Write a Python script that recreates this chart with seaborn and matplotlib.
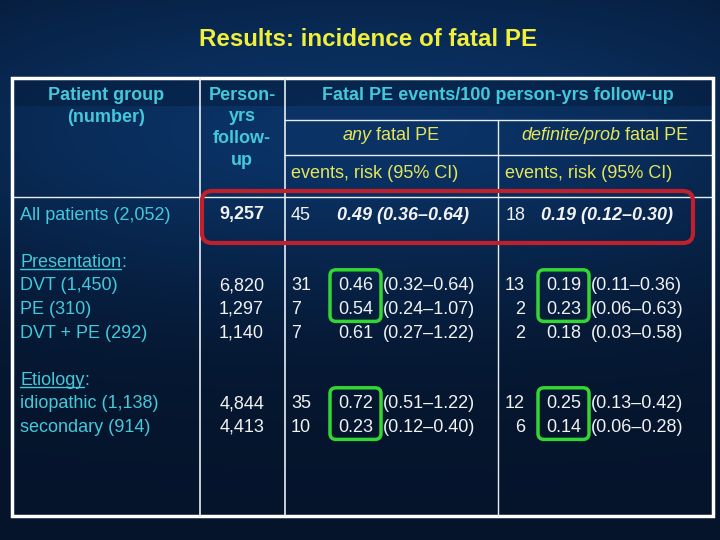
import numpy as np
import matplotlib.pyplot as plt
import seaborn as sns
from matplotlib.patches import FancyBboxPatch, Rectangle

sns.set_theme(style="white")
plt.rcParams["font.family"] = ["Liberation Sans", "DejaVu Sans"]

# Tablo verileri
title = "Results: incidence of fatal PE"
groups = ["All patients (2,052)", "DVT (1,450)", "PE (310)", "DVT + PE (292)",
          "idiopathic (1,138)", "secondary (914)"]
person_yrs = ["9,257", "6,820", "1,297", "1,140", "4,844", "4,413"]
any_events = [45, 31, 7, 7, 35, 10]
any_risk = [0.49, 0.46, 0.54, 0.61, 0.72, 0.23]
any_lo = [0.36, 0.32, 0.24, 0.27, 0.51, 0.12]
any_hi = [0.64, 0.64, 1.07, 1.22, 1.22, 0.40]
def_events = [18, 13, 2, 2, 12, 6]
def_risk = [0.19, 0.19, 0.23, 0.18, 0.25, 0.14]
def_lo = [0.12, 0.11, 0.06, 0.03, 0.13, 0.06]
def_hi = [0.30, 0.36, 0.63, 0.58, 0.42, 0.28]
row_line = [0, 3, 4, 5, 8, 9]
sections = ["Presentation", "Etiology"]
section_line = [2, 7]
highlight_groups = [[1, 2], [4, 5]]
head_group = ["Patient group", "(number)"]
head_pyrs = ["Person-", "yrs", "follow-", "up"]

CYAN = "#44c8dc"
YELLOW = "#e6e65a"
WHITE = "#f2f2f2"
RED = "#c0202c"
GREEN = "#33d633"

fig = plt.figure(figsize=(7.2, 5.4), dpi=100)
ax = fig.add_axes([0, 0, 1, 1])
ax.set_xlim(0, 720)
ax.set_ylim(540, 0)
ax.axis("off")

# Arka plan gradyanı
yy, xx = np.mgrid[0:540, 0:720]
v = np.exp(-((yy - 130) / 170.0) ** 2) * (1 - 0.35 * ((xx - 360) / 360.0) ** 2)
top = np.array([0.02, 0.08, 0.17])
mid = np.array([0.04, 0.20, 0.40])
img = top + v[..., None] * (mid - top)
ax.imshow(img, extent=(0, 720, 540, 0), zorder=0, aspect="auto")
ax.add_patch(Rectangle((12, 78), 701, 28, color="#041a38", alpha=0.45, lw=0, zorder=1))

fs = 13
CAP = 0.36 * fs * 100 / 72  # büyük harf yüksekliğinin yarısı (px)


def txt(x, y, s, color=WHITE, ha="left", size=fs, **kw):
    # y = satırın görsel ortası, taban çizgisine göre yerleştir
    return ax.text(x, y + 0.36 * size * 100 / 72, s, color=color, fontsize=size,
                   ha=ha, va="baseline", zorder=4, **kw)


txt(368, 37, title, color="#f0f03c", ha="center", size=17.4, fontweight="bold")

# Tablo çizgileri
lc = "#e8eef5"
ax.add_patch(Rectangle((12, 78), 701, 438, fill=False, ec="white", lw=2.5, zorder=3))
ax.plot([200, 200], [78, 516], color=lc, lw=1.2, zorder=3)
ax.plot([285, 285], [78, 516], color=lc, lw=1.2, zorder=3)
ax.plot([498, 498], [120, 516], color=lc, lw=1.0, zorder=3)
ax.plot([285, 713], [120, 120], color=lc, lw=1.0, zorder=3)
ax.plot([285, 713], [155, 155], color=lc, lw=1.0, zorder=3)
ax.plot([12, 713], [197, 197], color=lc, lw=1.0, zorder=3)

fig.canvas.draw()
renderer = fig.canvas.get_renderer()


def segments(x, y, parts, color):
    # parçaları yan yana yaz (italik + normal karışık), ortalı
    widths = []
    for s, style in parts:
        t = ax.text(0, 0, s, fontsize=fs, fontstyle=style)
        widths.append(t.get_window_extent(renderer).width)
        t.remove()
    x0 = x - sum(widths) / 2
    for (s, style), w in zip(parts, widths):
        txt(x0, y, s, color=color, fontstyle=style)
        x0 += w


# Başlıklar
for j, s in enumerate(head_group):
    txt(106, 93 + 23 * j, s, color=CYAN, ha="center", fontweight="bold")
for j, s in enumerate(head_pyrs):
    txt(242, 93 + 21.7 * j, s, color=CYAN, ha="center", fontweight="bold")
txt(498, 93, "Fatal PE events/100 person-yrs follow-up", color=CYAN, ha="center", fontweight="bold")
segments(391, 133, [("any", "italic"), (" fatal PE", "normal")], YELLOW)
segments(605, 133, [("definite/prob", "italic"), (" fatal PE", "normal")], YELLOW)
txt(291, 171, "events, risk (95% CI)", color=YELLOW)
txt(505, 171, "events, risk (95% CI)", color=YELLOW)


def line_y(k):
    return 213 + 23.6 * k


# Bölüm başlıkları (altı çizili)
for name, k in zip(sections, section_line):
    t = txt(20, line_y(k), name, color=CYAN)
    w = t.get_window_extent(renderer).width
    txt(20 + w, line_y(k), ":", color=CYAN)
    ub = line_y(k) + CAP + 2.5
    ax.plot([20, 20 + w], [ub, ub], color=CYAN, lw=1.0, zorder=4)

# Satırlar
for i, k in enumerate(row_line):
    y = line_y(k)
    txt(20, y, groups[i], color=CYAN)
    if i == 0:
        txt(242, y, person_yrs[i], ha="center", fontweight="bold")
        txt(291, y, str(any_events[i]))
        txt(337, y, f"{any_risk[i]:.2f} ({any_lo[i]:.2f}\u2013{any_hi[i]:.2f})",
            fontweight="bold", fontstyle="italic")
        txt(506, y, str(def_events[i]))
        txt(541, y, f"{def_risk[i]:.2f} ({def_lo[i]:.2f}\u2013{def_hi[i]:.2f})",
            fontweight="bold", fontstyle="italic")
        continue
    txt(264, y, person_yrs[i], ha="right")
    txt(291, y, str(any_events[i]))
    txt(338, y, f"{any_risk[i]:.2f}")
    txt(383, y, f"({any_lo[i]:.2f}\u2013{any_hi[i]:.2f})")
    txt(525, y, str(def_events[i]), ha="right")
    txt(546, y, f"{def_risk[i]:.2f}")
    txt(591, y, f"({def_lo[i]:.2f}\u2013{def_hi[i]:.2f})")

# Kırmızı çerçeve (tüm hastalar)
ax.add_patch(FancyBboxPatch((202, line_y(0) - 22), 491, 52,
                            boxstyle="round,pad=0,rounding_size=10",
                            fill=False, ec=RED, lw=3, zorder=5))

# Yeşil çerçeveler
for rows in highlight_groups:
    y0 = line_y(row_line[rows[0]]) - 14
    y1 = line_y(row_line[rows[-1]]) + 14
    for x0 in (330, 538):
        ax.add_patch(FancyBboxPatch((x0, y0), 51, y1 - y0,
                                    boxstyle="round,pad=0,rounding_size=6",
                                    fill=False, ec=GREEN, lw=2.5, zorder=5))

plt.savefig("out.png", dpi=100)
